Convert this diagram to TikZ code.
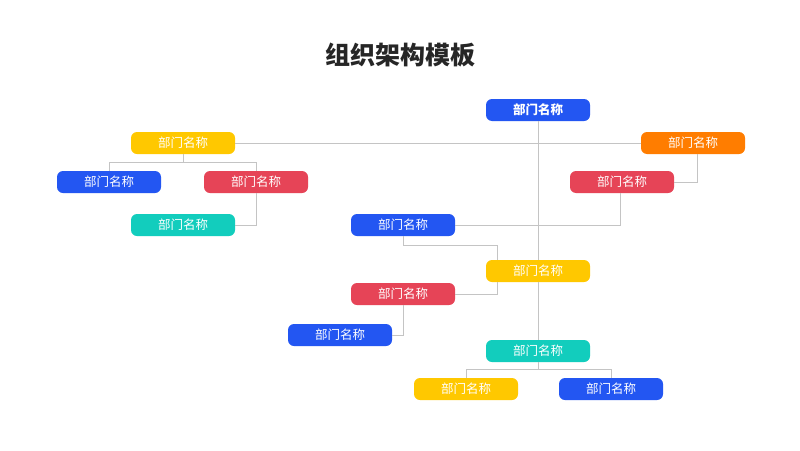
\documentclass[tikz,border=0pt]{standalone}
\usepackage{fontspec}
\setmainfont{Noto Sans CJK SC}
\usepackage{xcolor}
\definecolor{cblue}{HTML}{2356F2}
\definecolor{cyellow}{HTML}{FFC800}
\definecolor{corange}{HTML}{FF7D00}
\definecolor{cred}{HTML}{E64457}
\definecolor{cteal}{HTML}{12CDBD}
\definecolor{cline}{HTML}{C4C4C4}
\begin{document}
\begin{tikzpicture}[x=1pt, y=-1pt,
    dept/.style={rounded corners=6pt, minimum width=104pt, minimum height=22pt, inner sep=0pt,
      text=white, font=\fontsize{12.5}{14}\selectfont},
    link/.style={draw=cline, line width=0.8pt}]
      \useasboundingbox[fill=white] (0,0) rectangle (800,450);
      \node[font=\fontsize{25}{30}\selectfont\bfseries, text=black!85] (title) at (400,55) {组织架构模板};
      \node[dept, fill=cblue] (top) at (538,110) {\bfseries 部门名称};
      \node[dept, fill=cyellow] (lyel) at (183,143) {部门名称};
      \node[dept, fill=corange] (orng) at (693,143) {部门名称};
      \node[dept, fill=cblue] (lblue) at (109,182) {部门名称};
      \node[dept, fill=cred] (lred) at (256,182) {部门名称};
      \node[dept, fill=cteal] (lteal) at (183,225) {部门名称};
      \node[dept, fill=cred] (rred) at (622,182) {部门名称};
      \node[dept, fill=cblue] (mblue) at (403,225) {部门名称};
      \node[dept, fill=cyellow] (myel) at (538,271) {部门名称};
      \node[dept, fill=cred] (mred) at (403,294) {部门名称};
      \node[dept, fill=cblue] (lowblue) at (340,335) {部门名称};
      \node[dept, fill=cteal] (mteal) at (538,351) {部门名称};
      \node[dept, fill=cyellow] (byel) at (466,389) {部门名称};
      \node[dept, fill=cblue] (bblue) at (611,389) {部门名称};
      \draw[link] (top.south) -- (myel.north);
      \draw[link] (myel.south) -- (mteal.north);
      \draw[link] (lyel.east) -- (orng.west);
      \foreach \n in {lblue,lred}
        \draw[link] (lyel.south) -- ++(0,8) -| (\n.north);
      \draw[link] (lred.south) |- (lteal.east);
      \draw[link] ([xshift=4pt]orng.south) |- (rred.east);
      \draw[link] ([xshift=-2pt]rred.south) |- (mblue.east);
      \draw[link] (mblue.south) -- ++(0,9) -| ([xshift=-41pt]myel.north);
      \draw[link] ([xshift=-41pt]myel.south) |- (mred.east);
      \draw[link] (mred.south) |- (lowblue.east);
      \foreach \n in {byel,bblue}
        \draw[link] (mteal.south) -- ++(0,7) -| (\n.north);
    \end{tikzpicture}
\end{document}
